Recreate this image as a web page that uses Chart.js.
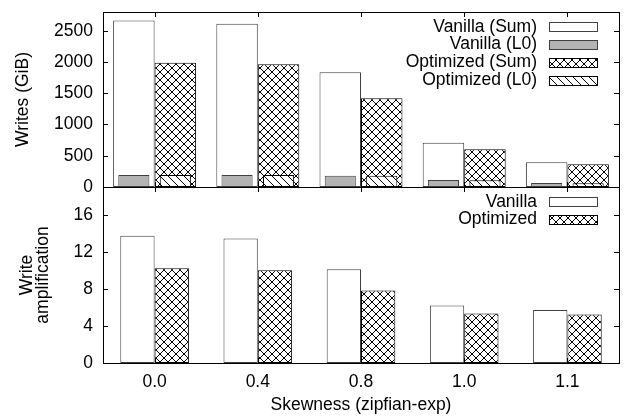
<!DOCTYPE html>
<html>
<head>
<meta charset="utf-8">
<script src="https://cdn.jsdelivr.net/npm/chart.js@4.4.0/dist/chart.umd.min.js"></script>
<style>
  html, body { margin: 0; padding: 0; background: #fff; }
  #wrap { position: relative; width: 626px; height: 417px; }
  #c1 { position: absolute; left: 0; top: 0; }
  #c2 { position: absolute; left: 0; top: 186px; }
</style>
</head>
<body>
<div id="wrap">
  <canvas id="c1" width="626" height="200"></canvas>
  <canvas id="c2" width="626" height="231"></canvas>
</div>
<script>
// data
const skew = ['0.0', '0.4', '0.8', '1.0', '1.1'];
const vanillaSum = [2665, 2612, 1838, 710, 396];
const vanillaL0 = [192, 192, 181, 112, 64];
const optSum = [1990, 1966, 1421, 604, 364];
const optL0 = [192, 192, 181, 110, 59];
const vanillaWA = [13.73, 13.43, 10.12, 6.22, 5.71];
const optWA = [10.22, 10.0, 7.84, 5.35, 5.24];
const writesTicks = [0, 500, 1000, 1500, 2000, 2500];
const waTicks = [0, 4, 8, 12, 16];

const FONT = { family: "'Liberation Sans', Arial, sans-serif", size: 17.5 };

// hatch patterns (gnuplot-like)
function makePattern(kind) {
  const n = 8;
  const c = document.createElement('canvas');
  c.width = n; c.height = n;
  const g = c.getContext('2d');
  g.fillStyle = '#fff';
  g.fillRect(0, 0, n, n);
  g.strokeStyle = '#000';
  g.lineWidth = 1;
  g.beginPath();
  g.moveTo(-1, -1); g.lineTo(n + 1, n + 1); // "\" lines
  if (kind === 'cross') {
    g.moveTo(-1, n + 1); g.lineTo(n + 1, -1);
  }
  g.stroke();
  return g.createPattern(c, 'repeat');
}
const crossPat = makePattern('cross');
const diagPat = makePattern('diag');

// box, inward ticks, and in-plot key
const framePlugin = {
  id: 'frame',
  afterDatasetsDraw(chart, args, opts) {
    const { ctx, chartArea: a } = chart;
    const x = chart.scales.x, y = chart.scales.y;
    const tl = 5;
    ctx.save();
    ctx.strokeStyle = '#000';
    ctx.lineWidth = 1;
    ctx.beginPath();
    y.ticks.forEach(t => {
      const py = Math.round(y.getPixelForValue(t.value)) + 0.5;
      ctx.moveTo(a.left, py); ctx.lineTo(a.left + tl, py);
      ctx.moveTo(a.right, py); ctx.lineTo(a.right - tl, py);
    });
    x.ticks.forEach((t, i) => {
      const px = Math.round(x.getPixelForValue(i)) + 0.5;
      ctx.moveTo(px, a.bottom); ctx.lineTo(px, a.bottom - tl);
      ctx.moveTo(px, a.top); ctx.lineTo(px, a.top + tl);
    });
    ctx.stroke();
    ctx.strokeRect(Math.round(a.left) + 0.5, Math.round(a.top) + 0.5,
      Math.round(a.right - a.left), Math.round(a.bottom - a.top));

    // key
    ctx.font = FONT.size + 'px ' + FONT.family;
    ctx.textAlign = 'right';
    ctx.textBaseline = 'middle';
    ctx.fillStyle = '#000';
    chart.data.datasets.forEach((ds, i) => {
      const cy = opts.y0 + i * opts.dy;
      ctx.fillText(ds.label, opts.textRight, cy);
      const bx = opts.boxLeft, bw = opts.boxWidth, bh = 9;
      const by = Math.round(cy - bh / 2) + 0.5;
      ctx.fillStyle = ds.backgroundColor;
      ctx.fillRect(bx + 0.5, by, bw, bh);
      ctx.strokeStyle = ds.borderColor;
      ctx.strokeRect(bx + 0.5, by, bw, bh);
      ctx.fillStyle = '#000';
    });
    ctx.restore();
  }
};

function fixY(s) {
  s.width = 103;
  s.paddingTop = 0;
  s.paddingBottom = 0;
}
const plainTick = v => String(v);

new Chart(document.getElementById('c1'), {
  type: 'bar',
  data: {
    labels: skew,
    datasets: [
      { label: 'Vanilla (Sum)', data: vanillaSum, stack: 'v', order: 1,
        backgroundColor: '#fff', borderColor: '#404040', borderWidth: 1, borderSkipped: false,
        categoryPercentage: 0.804, barPercentage: 1 },
      { label: 'Vanilla (L0)', data: vanillaL0, stack: 'v', order: 0,
        backgroundColor: '#b3b3b3', borderColor: '#404040', borderWidth: 1, borderSkipped: false,
        categoryPercentage: 0.804, barPercentage: 0.75 },
      { label: 'Optimized (Sum)', data: optSum, stack: 'o', order: 1,
        backgroundColor: crossPat, borderColor: '#000', borderWidth: 1, borderSkipped: false,
        categoryPercentage: 0.804, barPercentage: 1 },
      { label: 'Optimized (L0)', data: optL0, stack: 'o', order: 0,
        backgroundColor: diagPat, borderColor: '#000', borderWidth: 1, borderSkipped: false,
        categoryPercentage: 0.804, barPercentage: 0.75 }
    ]
  },
  options: {
    responsive: false,
    animation: false,
    layout: { padding: { left: 0, right: 7, top: 12, bottom: 13 } },
    plugins: {
      legend: { display: false },
      tooltip: { enabled: false },
      frame: { y0: 26.7, dy: 17.8, textRight: 537, boxLeft: 549, boxWidth: 48 }
    },
    scales: {
      x: { type: 'category', display: false, offset: true },
      y: {
        min: 0, max: 2800, stacked: false,
        afterBuildTicks: s => { s.ticks = writesTicks.map(v => ({ value: v })); },
        afterFit: fixY,
        grid: { display: false, drawTicks: false },
        border: { display: false },
        ticks: { font: FONT, color: '#000', padding: 10, callback: plainTick },
        title: { display: true, text: 'Writes (GiB)', font: FONT, color: '#000', padding: { top: 12.5 } }
      }
    }
  },
  plugins: [framePlugin]
});

new Chart(document.getElementById('c2'), {
  type: 'bar',
  data: {
    labels: skew,
    datasets: [
      { label: 'Vanilla', data: vanillaWA,
        backgroundColor: '#fff', borderColor: '#404040', borderWidth: 1, borderSkipped: false,
        categoryPercentage: 0.665, barPercentage: 1 },
      { label: 'Optimized', data: optWA,
        backgroundColor: crossPat, borderColor: '#000', borderWidth: 1, borderSkipped: false,
        categoryPercentage: 0.665, barPercentage: 1 }
    ]
  },
  options: {
    responsive: false,
    animation: false,
    layout: { padding: { left: 0, right: 7, top: 1, bottom: 0 } },
    plugins: {
      legend: { display: false },
      tooltip: { enabled: false },
      frame: { y0: 15.7, dy: 17.6, textRight: 537, boxLeft: 549, boxWidth: 48 }
    },
    scales: {
      x: {
        type: 'category', offset: true,
        afterFit: s => { s.height = 54; s.paddingLeft = 0; s.paddingRight = 0; },
        grid: { display: false, drawTicks: false },
        border: { display: false },
        ticks: { font: FONT, color: '#000', padding: 9 },
        title: { display: true, text: 'Skewness (zipfian-exp)', font: FONT, color: '#000', padding: { bottom: 1.5 } }
      },
      y: {
        min: 0, max: 19,
        afterBuildTicks: s => { s.ticks = waTicks.map(v => ({ value: v })); },
        afterFit: fixY,
        grid: { display: false, drawTicks: false },
        border: { display: false },
        ticks: { font: FONT, color: '#000', padding: 10, callback: plainTick },
        title: { display: true, text: ['Write', 'amplification'],
          font: Object.assign({}, FONT, { lineHeight: 0.92 }), color: '#000', padding: { top: 19 } }
      }
    }
  },
  plugins: [framePlugin]
});
</script>
</body>
</html>
